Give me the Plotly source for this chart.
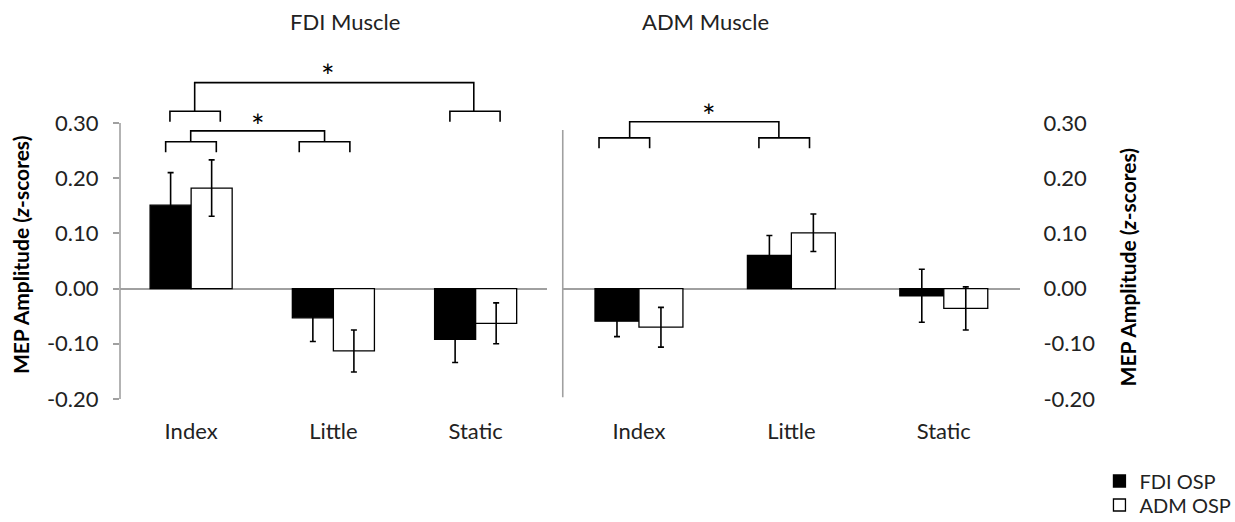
import plotly.graph_objects as go

# ---------------- data ----------------
categories = ["Index", "Little", "Static"]
series_names = ["FDI OSP", "ADM OSP"]
panel_titles = ["FDI Muscle", "ADM Muscle"]

fdi_muscle_fdi_osp = [0.151, -0.053, -0.092]
fdi_muscle_fdi_osp_err = [0.059, 0.043, 0.042]
fdi_muscle_adm_osp = [0.182, -0.113, -0.063]
fdi_muscle_adm_osp_err = [0.051, 0.038, 0.037]

adm_muscle_fdi_osp = [-0.059, 0.060, -0.013]
adm_muscle_fdi_osp_err = [0.028, 0.036, 0.048]
adm_muscle_adm_osp = [-0.070, 0.101, -0.036]
adm_muscle_adm_osp_err = [0.036, 0.034, 0.039]

y_tick_vals = [-0.2, -0.1, 0.0, 0.1, 0.2, 0.3]
y_tick_text = ["-0.20", "-0.10", "0.00", "0.10", "0.20", "0.30"]
y_title = "MEP Amplitude (<i>z</i>-scores)"

# significance brackets (category-index x, data y)
sig_panel = [1, 1, 2]
sig_left_sub = [(-0.149, 0.205), (-0.179, 0.177), (-0.262, 0.070)]
sig_right_sub = [(1.819, 2.172), (0.760, 1.116), (0.787, 1.119)]
sig_stems = [(0.025, 1.987), (-0.003, 0.938), (-0.061, 0.918)]
sig_y_main = [0.373, 0.2855, 0.302]
sig_y_sub = [0.321, 0.266, 0.273]
sig_y_tip = [0.302, 0.247, 0.254]
sig_star_x = [0.963, 0.470, 0.457]
sig_star_y = [0.403, 0.311, 0.330]

# ---------------- figure ----------------
FONT = "Lato"
GRAY = "#a0a0a0"
W, H = 1235, 522
ML, MR, MT, MB = 120, 214.5, 55, 123
PW = W - ML - MR
PH = H - MT - MB
Y_RANGE = [-0.2, 0.423]


def px_x(p):
    return (p - ML) / PW


def px_y(p):
    return (H - MB - p) / PH


fig = go.Figure()

panels = [
    ("x", "y", fdi_muscle_fdi_osp, fdi_muscle_fdi_osp_err, fdi_muscle_adm_osp, fdi_muscle_adm_osp_err, True),
    ("x2", "y2", adm_muscle_fdi_osp, adm_muscle_fdi_osp_err, adm_muscle_adm_osp, adm_muscle_adm_osp_err, False),
]
for xa, ya, v1, e1, v2, e2, show in panels:
    fig.add_trace(go.Bar(
        x=categories, y=v1, name=series_names[0], xaxis=xa, yaxis=ya, legend="legend",
        marker=dict(color="black", line=dict(color="black", width=1.3)),
        error_y=dict(type="data", array=e1, visible=True, color="black", thickness=1.6, width=3),
        showlegend=show,
    ))
    fig.add_trace(go.Bar(
        x=categories, y=v2, name=series_names[1], xaxis=xa, yaxis=ya, legend="legend2",
        marker=dict(color="white", line=dict(color="black", width=1.3)),
        error_y=dict(type="data", array=e2, visible=True, color="black", thickness=1.6, width=3),
        showlegend=show,
    ))

x1_dom = [0, px_x(547)]
x2_dom = [px_x(563), 1]

axis_common = dict(
    type="category", range=[-0.5, 2.5], showline=False, showgrid=False, zeroline=False,
    ticks="", ticklabelstandoff=17, tickfont=dict(family=FONT, size=22, color="#222"),
)
legend_common = dict(
    xanchor="left", yanchor="middle", font=dict(family=FONT, size=20, color="#222"),
    bgcolor="rgba(0,0,0,0)", itemwidth=30,
)
fig.update_layout(
    xaxis=dict(domain=x1_dom, anchor="y", **axis_common),
    xaxis2=dict(domain=x2_dom, anchor="y2", **axis_common),
    yaxis=dict(
        domain=[0, 1], anchor="x", range=Y_RANGE, tickvals=y_tick_vals, ticktext=y_tick_text,
        showgrid=False, showline=False, zeroline=True, zerolinecolor=GRAY, zerolinewidth=1.6,
        ticks="outside", ticklen=6, tickcolor=GRAY, tickwidth=1.5, ticklabelstandoff=10,
        tickfont=dict(family=FONT, size=22, color="#222"),
    ),
    yaxis2=dict(
        domain=[0, 1], anchor="x2", side="right", range=Y_RANGE, tickvals=y_tick_vals, ticktext=y_tick_text,
        showgrid=False, showline=False, zeroline=True, zerolinecolor=GRAY, zerolinewidth=1.6,
        ticks="outside", ticklen=18, tickcolor="rgba(0,0,0,0)",
        tickfont=dict(family=FONT, size=22, color="#222"),
    ),
    barmode="group", bargap=0.423, bargroupgap=0,
    width=W, height=H,
    margin=dict(l=ML, r=MR, t=MT, b=MB, autoexpand=False),
    paper_bgcolor="white", plot_bgcolor="white",
    font=dict(family=FONT, size=22, color="#222"),
    legend=dict(x=px_x(1100), y=px_y(481), **legend_common),
    legend2=dict(x=px_x(1100), y=px_y(505), **legend_common),
)

shapes = []
# axis lines (vertical) for both panels
shapes.append(dict(type="line", xref="paper", yref="y", x0=x1_dom[0], x1=x1_dom[0], y0=-0.2, y1=0.3,
                   line=dict(color=GRAY, width=1.6)))
shapes.append(dict(type="line", xref="paper", yref="y2", x0=x2_dom[0], x1=x2_dom[0], y0=-0.197, y1=0.287,
                   line=dict(color=GRAY, width=1.6)))

annotations = []
for i in range(len(sig_panel)):
    xr = "x" if sig_panel[i] == 1 else "x2"
    yr = "y" if sig_panel[i] == 1 else "y2"
    ln = dict(color="black", width=1.6)
    for (a, b) in (sig_left_sub[i], sig_right_sub[i]):
        shapes.append(dict(type="path", xref=xr, yref=yr,
                           path=f"M {a},{sig_y_tip[i]} L {a},{sig_y_sub[i]} L {b},{sig_y_sub[i]} L {b},{sig_y_tip[i]}",
                           line=ln))
    s0, s1 = sig_stems[i]
    shapes.append(dict(type="path", xref=xr, yref=yr,
                       path=f"M {s0},{sig_y_sub[i]} L {s0},{sig_y_main[i]} L {s1},{sig_y_main[i]} L {s1},{sig_y_sub[i]}",
                       line=ln))
    annotations.append(dict(xref=xr, yref=yr, x=sig_star_x[i], y=sig_star_y[i], text="*", showarrow=False,
                            xanchor="center", yanchor="middle",
                            font=dict(family=FONT, size=32, color="black"), yshift=-9))

# panel titles
common_ann = dict(xref="paper", yref="paper", showarrow=False, xanchor="center", yanchor="middle")
annotations.append(dict(x=px_x(345), y=px_y(21), text=panel_titles[0],
                        font=dict(family=FONT, size=22, color="#222"), **common_ann))
annotations.append(dict(x=px_x(705.5), y=px_y(21), text=panel_titles[1],
                        font=dict(family=FONT, size=22, color="#222"), **common_ann))
# y titles
annotations.append(dict(x=px_x(21), y=px_y(255), text="<b>" + y_title + "</b>", textangle=-90,
                        font=dict(family=FONT, size=21, color="black"), **common_ann))
annotations.append(dict(x=px_x(1128), y=px_y(267), text="<b>" + y_title + "</b>", textangle=-90,
                        font=dict(family=FONT, size=21, color="black"), **common_ann))

fig.update_layout(shapes=shapes, annotations=annotations)
fig.write_html(
    "out.html",
    config={"displayModeBar": False},
    post_script="document.body.style.margin='0';document.body.style.overflow='hidden';",
)
